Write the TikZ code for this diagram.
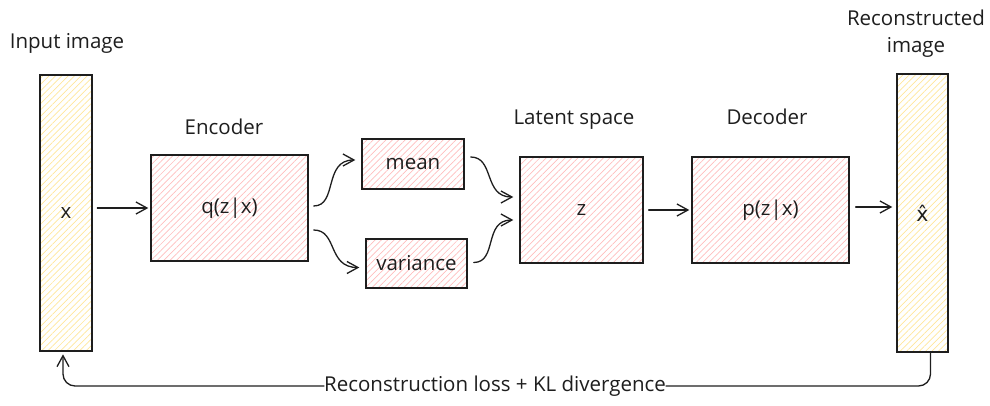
\documentclass[tikz,border=0pt]{standalone}
\usepackage{fontspec}
\setmainfont{Open Sans}
\newfontfamily\dejavu{DejaVu Sans}
\usetikzlibrary{arrows.meta,patterns.meta}
\definecolor{ink}{HTML}{1E1E1E}
\definecolor{pinkh}{HTML}{FFBDBD}
\definecolor{yelh}{HTML}{FFE69A}
\tikzset{
  txt/.style={font=\fontsize{20.5}{24}\selectfont, text=ink, inner sep=1pt},
  box/.style={txt, draw=ink, line width=1.4pt, minimum width=#1},
  pinkbox/.style={box=#1, pattern={Lines[angle=45,distance=4.5pt,line width=0.7pt]}, pattern color=pinkh},
  yelbox/.style={box=#1, pattern={Lines[angle=45,distance=4.5pt,line width=0.7pt]}, pattern color=yelh},
  conn/.style={draw=ink, line width=1.3pt, line cap=round},
  arr/.style={conn, -{Straight Barb[length=11pt,width=12pt,line width=1.3pt]}},
}
\begin{document}
\begin{tikzpicture}[x=1pt,y=-1pt]
\useasboundingbox (0,0) rectangle (990,405);
% labels
\node[txt] (linput) at (67,43) {Input image};
\node[txt] (lenc) at (224,127) {Encoder};
\node[txt] (llat) at (574,120) {Latent space};
\node[txt] (ldec) at (767,117) {Decoder};
\node[txt, align=center, font=\fontsize{20.5}{27}\selectfont] (lrec) at (916,34) {Reconstructed\\image};
% boxes
\node[yelbox=52pt, minimum height=276pt] (input) at (66,213) {x};
\node[pinkbox=157pt, minimum height=106pt] (enc) at (229.5,208) {q(z|x)};
\node[pinkbox=102pt, minimum height=50pt] (mean) at (413,164) {mean};
\node[pinkbox=101pt, minimum height=49pt] (var) at (416.5,263.5) {variance};
\node[pinkbox=123pt, minimum height=106pt] (z) at (581.5,210) {z};
\node[pinkbox=157pt, minimum height=106pt] (dec) at (770.5,210) {p(z|x)};
\node[yelbox=51pt, minimum height=278pt] (xhat) at (922.5,213) {{\dejavu x̂}};
% straight arrows
\draw[arr] ([xshift=5pt]input.east |- enc.west) -- ([xshift=-2pt]enc.west);
\draw[arr] ([xshift=5pt]z.east) -- ([xshift=-2pt]dec.west);
\draw[arr] ([xshift=6pt,yshift=3pt]dec.east) -- ([xshift=-4pt,yshift=3pt]xhat.west |- dec.east);
% curved arrows
\draw[arr] ([xshift=5pt,yshift=2pt]enc.east) .. controls +(24,0) and +(-32,0) .. ([xshift=-6pt,yshift=4pt]mean.west);
\draw[arr] ([xshift=5pt,yshift=-22pt]enc.east) .. controls +(24,0) and +(-32,0) .. ([xshift=-6pt,yshift=-4pt]var.west);
\draw[arr] ([xshift=6pt,yshift=7pt]mean.east) .. controls +(24,0) and +(-30,0) .. ([xshift=-6pt,yshift=13pt]z.west);
\draw[arr] ([xshift=6pt,yshift=1pt]var.east) .. controls +(24,0) and +(-30,0) .. ([xshift=-6pt,yshift=-10pt]z.west);
% loss loop
\node[txt, fill=white, inner sep=0pt] (loss) at (495,386) {Reconstruction loss + KL divergence};
\draw[conn, rounded corners=12pt] ([xshift=8pt]xhat.south) |- (loss.east);
\draw[arr, rounded corners=12pt] (loss.west) -| ([xshift=-3pt,yshift=-3pt]input.south);
\end{tikzpicture}
\end{document}
